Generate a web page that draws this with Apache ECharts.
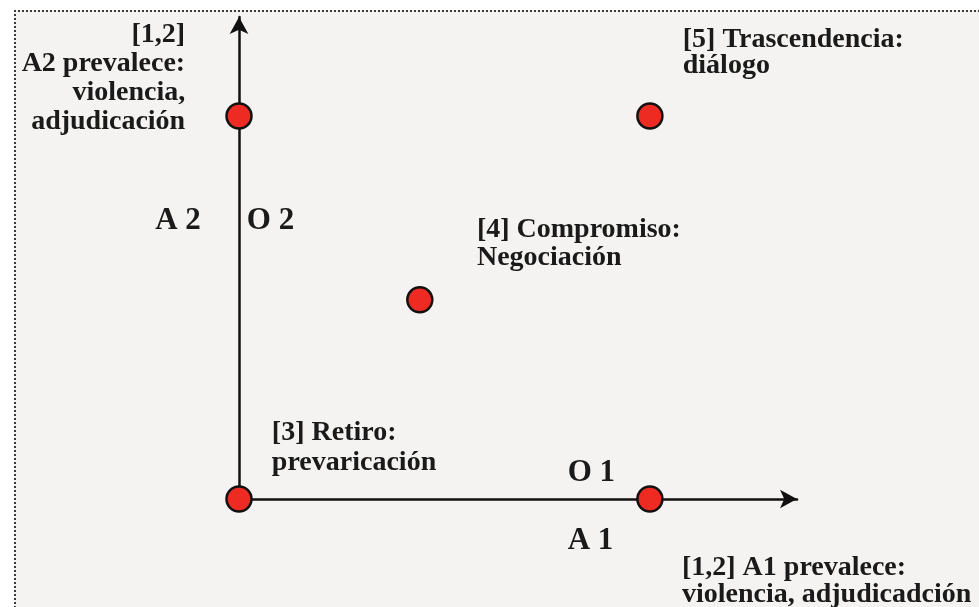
<!DOCTYPE html>
<html><head><meta charset="utf-8">
<script src="https://cdn.jsdelivr.net/npm/echarts@6/dist/echarts.min.js"></script>
<style>
html,body{margin:0;padding:0;background:#fff;}
#wrap{position:relative;width:979px;height:607px;overflow:hidden;}
#bg{position:absolute;left:14px;top:10px;width:1000px;height:700px;background:#f4f3f2;border-top:2px dotted #3a3a3a;border-left:2px dotted #3a3a3a;}
#chart{position:absolute;left:0;top:0;width:979px;height:607px;}
</style></head><body>
<div id="wrap"><div id="bg"></div><div id="chart"></div></div>
<script>
// Points (conflict-outcome positions)
const pointsX = [0, 1, 0, 1, 0.44];
const pointsY = [0, 0, 1, 1, 0.52];
// Axis extents
const xMax = 1.358;
const yMax = 1.2585;
// Annotations
const annoText = [
  '[1,2]\nA2 prevalece:\nviolencia,\nadjudicación',
  '[5] Trascendencia:\ndiálogo',
  '[4] Compromiso:\nNegociación',
  '[3] Retiro:\nprevaricación',
  '[1,2] A1 prevalece:\nviolencia, adjudicadción',
  'A 2',
  'O 2',
  'O 1',
  'A 1'
];
const annoX = [-0.131, 1.080, 0.579, 0.080, 1.078, -0.204, 0.019, 0.800, 0.800];
const annoY = [1.249, 1.232, 0.739, 0.211, -0.145, 0.726, 0.726, 0.068, -0.109];
const annoAlign = ['right','left','left','left','left','left','left','left','left'];
const annoVAlign = ['top','top','top','top','top','middle','middle','middle','middle'];
const annoSize = [28,28,28,28,28,31,31,31,31];
const annoLH = [29,26,28,30,27,30,30,30,30];

const chart = echarts.init(document.getElementById('chart'), null, {renderer:'canvas'});
const axisCommon = {
  type: 'value',
  axisLine: {show: true, onZero: true, symbol: ['none','arrow'], symbolSize: [14,17],
    lineStyle: {color: '#111', width: 2.5}},
  axisTick: {show: false},
  axisLabel: {show: false},
  splitLine: {show: false}
};
chart.setOption({
  animation: false,
  grid: {left: 239, right: 182, top: 17, bottom: 108},
  xAxis: Object.assign({}, axisCommon, {min: 0, max: xMax}),
  yAxis: Object.assign({}, axisCommon, {min: 0, max: yMax}),
  series: [{
    type: 'scatter',
    clip: false,
    symbolSize: 25,
    itemStyle: {color: '#ee2b22', borderColor: '#111', borderWidth: 2.5, opacity: 1},
    data: pointsX.map((x, i) => [x, pointsY[i]]),
    z: 5
  }]
});
const graphic = annoText.map((t, i) => {
  const p = chart.convertToPixel({gridIndex: 0}, [annoX[i], annoY[i]]);
  return {
    type: 'text', x: p[0], y: p[1], silent: true,
    style: {
      text: t,
      font: 'bold ' + annoSize[i] + 'px "Liberation Serif", serif',
      fill: '#1a1a1a',
      align: annoAlign[i],
      verticalAlign: annoVAlign[i],
      lineHeight: annoLH[i]
    }
  };
});
chart.setOption({graphic: graphic});
</script>
</body></html>
